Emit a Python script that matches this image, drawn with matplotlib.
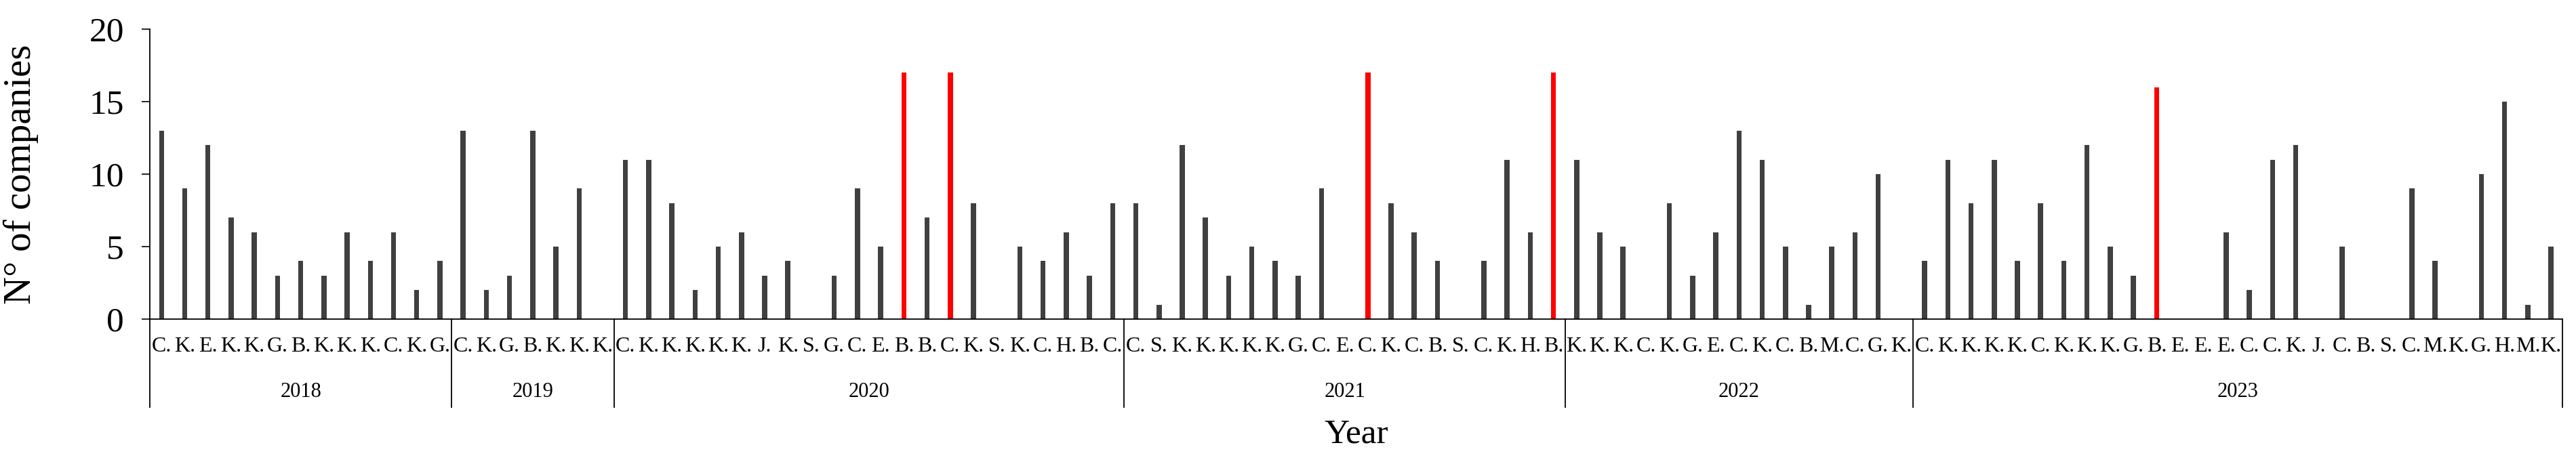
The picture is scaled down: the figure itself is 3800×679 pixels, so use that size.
import matplotlib
matplotlib.use("Agg")
import matplotlib.pyplot as plt
import matplotlib.transforms as mtransforms

# --- data ---
years = ["2018", "2019", "2020", "2021", "2022", "2023"]

labels_2018 = "C. K. E. K. K. G. B. K. K. K. C. K. G.".split()
values_2018 = [13, 9, 12, 7, 6, 3, 4, 3, 6, 4, 6, 2, 4]

labels_2019 = "C. K. G. B. K. K. K.".split()
values_2019 = [13, 2, 3, 13, 5, 9, 0]

labels_2020 = "C. K. K. K. K. K. J. K. S. G. C. E. B. B. C. K. S. K. C. H. B. C.".split()
values_2020 = [11, 11, 8, 2, 5, 6, 3, 4, 0, 3, 9, 5, 17, 7, 17, 8, 0, 5, 4, 6, 3, 8]

labels_2021 = "C. S. K. K. K. K. K. G. C. E. C. K. C. B. S. C. K. H. B.".split()
values_2021 = [8, 1, 12, 7, 3, 5, 4, 3, 9, 0, 17, 8, 6, 4, 0, 4, 11, 6, 17]

labels_2022 = "K. K. K. C. K. G. E. C. K. C. B. M. C. G. K.".split()
values_2022 = [11, 6, 5, 0, 8, 3, 6, 13, 11, 5, 1, 5, 6, 10, 0]

labels_2023 = ("C. K. K. K. K. C. K. K. K. G. B. E. E. E. C. C. K. J. C. B. S. "
               "C. M. K. G. H. M. K.").split()
values_2023 = [4, 11, 8, 11, 4, 8, 4, 12, 5, 3, 16, 0, 0, 6, 2, 11, 12, 0, 5, 0, 0,
               9, 4, 0, 10, 15, 1, 5]

# bars drawn in red: (year, index within year)
highlighted = [("2020", 12), ("2020", 14), ("2021", 10), ("2021", 18), ("2023", 10)]

year_labels = [labels_2018, labels_2019, labels_2020, labels_2021, labels_2022, labels_2023]
year_values = [values_2018, values_2019, values_2020, values_2021, values_2022, values_2023]

# --- flatten ---
cats, vals, colors = [], [], []
bounds = [0]
for yr, labs, vs in zip(years, year_labels, year_values):
    for i, (lab, v) in enumerate(zip(labs, vs)):
        cats.append(lab)
        vals.append(v)
        colors.append("#ff0000" if (yr, i) in highlighted else "#404040")
    bounds.append(len(cats))

plt.rcParams["font.family"] = ["Liberation Serif", "DejaVu Serif"]

fig = plt.figure(figsize=(38, 6.79), dpi=100)
ax = fig.add_axes([0.0582, 0.3063, 0.9366, 0.6304])

x = list(range(len(cats)))
ax.bar(x, vals, width=0.22, color=colors, zorder=2)

ax.set_xlim(-0.5, len(cats) - 0.5)
ax.set_ylim(0, 20)
ax.set_yticks([0, 5, 10, 15, 20])
ax.tick_params(axis="y", labelsize=37, length=8.6, width=1.2, pad=19)

ax.set_xticks(x)
ax.set_xticklabels(cats, fontsize=23)
ax.tick_params(axis="x", length=0, pad=19)

for s in ["top", "right"]:
    ax.spines[s].set_visible(False)
ax.spines["left"].set_linewidth(1.3)
ax.spines["bottom"].set_linewidth(1.3)

# year separators and year names below the category labels
trans = mtransforms.blended_transform_factory(ax.transData, ax.transAxes)
for b in bounds:
    ax.plot([b - 0.5, b - 0.5], [0, -0.304], color="black", lw=1.3,
            transform=trans, clip_on=False)
for yr, a, b in zip(years, bounds[:-1], bounds[1:]):
    ax.text((a + b - 1) / 2, -0.25, yr, transform=trans, ha="center", va="center",
            fontsize=22)

ax.set_ylabel("N° of companies", fontsize=41)
ax.yaxis.set_label_coords(-0.0461, 0.5)
ax.set_xlabel("Year", fontsize=37)
ax.xaxis.set_label_coords(0.5, -0.343)

fig.savefig("out.png", dpi=100)
